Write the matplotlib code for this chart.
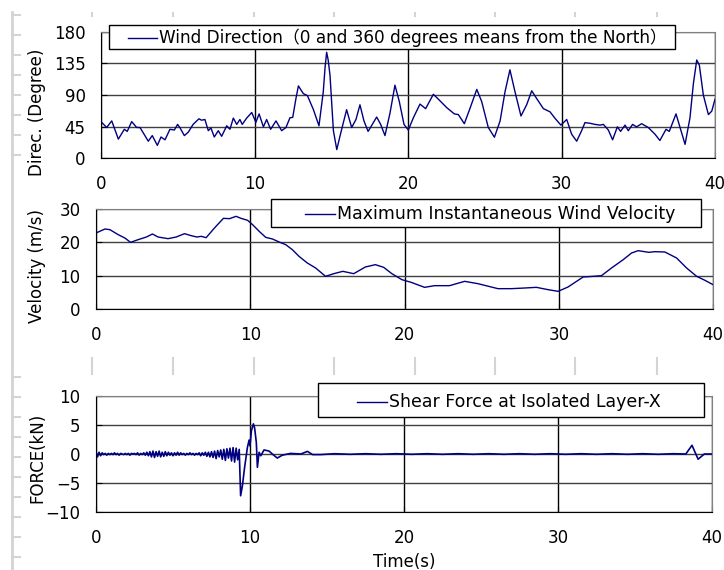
import numpy as np
import matplotlib.pyplot as plt
from matplotlib.lines import Line2D
from matplotlib.patches import Rectangle

plt.rcParams['font.family'] = ['DejaVu Sans', 'Noto Sans CJK JP']
plt.rcParams['font.size'] = 12

# wind direction (degree)
dir_t = [0.0, 0.04, 0.37, 0.70, 1.13, 1.52, 1.71, 2.0, 2.32, 2.54, 3.08, 3.34, 3.67, 3.91, 4.17,
         4.49, 4.78, 4.99, 5.15, 5.43, 5.69, 6.0, 6.38, 6.55, 6.77, 6.99, 7.16, 7.38, 7.64, 7.86,
         8.19, 8.40, 8.62, 8.84, 9.05, 9.2, 9.49, 9.82, 10.09, 10.3, 10.58, 10.79, 11.05, 11.4,
         11.77, 12.05, 12.31, 12.49, 12.7, 12.86, 13.18, 13.45, 13.84, 14.2, 14.48, 14.6, 14.7,
         14.8, 14.92, 15.14, 15.36, 15.6, 16.0, 16.33, 16.61, 16.87, 17.13, 17.4, 17.96, 18.22,
         18.5, 18.83, 19.15, 19.43, 19.74, 20.02, 20.35, 20.78, 21.15, 21.65, 21.98, 22.52, 23.02,
         23.28, 23.67, 24.04, 24.48, 24.8, 25.23, 25.63, 26.0, 26.32, 26.64, 26.97, 27.36, 27.73,
         28.06, 28.38, 28.82, 29.25, 29.58, 29.96, 30.34, 30.66, 30.99, 31.31, 31.53, 31.86, 32.18,
         32.51, 32.73, 33.05, 33.33, 33.64, 33.85, 34.14, 34.35, 34.63, 34.89, 35.22, 35.65, 36.09,
         36.41, 36.81, 37.02, 37.46, 37.72, 38.05, 38.37, 38.59, 38.81, 38.98, 39.24, 39.57, 39.79,
         40.0]
dir_v = [50, 51, 43.6, 53, 27, 41, 38, 52, 43.6, 43.6, 24, 32, 18, 30, 26,
         41, 40, 48, 43, 32, 37, 48, 56, 54, 55, 39, 43, 30, 39, 31,
         46, 41, 57, 48, 55, 48, 57, 65, 51, 63, 44.5, 55, 41, 53,
         39, 43.6, 57.5, 58, 85, 103, 92, 89, 69, 46, 94.6, 130, 151,
         140, 118, 39, 12, 34, 69, 43.6, 55, 76, 53, 38, 58.5, 48,
         32, 64.5, 104, 81, 48, 40, 57.5, 77, 70.5, 91, 84, 72, 63,
         62, 49, 71, 98, 80.7, 43.6, 29.7, 53, 94.6, 126, 94.6, 60, 76,
         96, 85, 70.5, 66, 56.6, 47, 55, 34, 24, 39, 50.6, 49.6, 48,
         47, 48, 40, 26, 44.5, 38, 47, 39, 48, 44.5, 49, 43.6, 34,
         25, 41, 38, 63, 43.6, 19.5, 57.5, 106, 140, 132.7, 90, 62, 67,
         84]

# maximum instantaneous wind velocity (m/s)
vel_t = [0, 0.58, 0.9, 1.44, 1.87, 2.24, 2.73, 3.27, 3.66, 4.02, 4.67, 5.2, 5.74, 6.17, 6.54,
         6.82, 7.14, 7.68, 8.26, 8.65, 9.08, 9.4, 9.83, 10.15, 10.58, 11.0, 11.44, 11.87, 12.3,
         12.73, 13.16, 13.7, 14.24, 14.88, 15.42, 16.0, 16.71, 17.46, 18.11, 18.65, 19.18, 19.83,
         20.43, 21.3, 21.95, 22.92, 23.9, 24.76, 26.06, 26.93, 27.8, 28.55, 29.31, 29.96, 30.6,
         31.58, 32.23, 32.77, 33.42, 34.18, 34.72, 35.15, 35.84, 36.23, 36.88, 37.64, 38.29,
         38.94, 39.48, 40]
vel_v = [22.8, 24, 23.8, 22.3, 21.3, 20, 20.8, 21.6, 22.5, 21.6, 21.1, 21.6, 22.6, 22, 21.6,
         21.8, 21.4, 24.3, 27.2, 27.1, 27.8, 27.2, 26.6, 25.3, 23.3, 21.5, 21, 20.1, 19.3,
         17.8, 15.8, 13.8, 12.3, 9.8, 10.6, 11.3, 10.6, 12.6, 13.3, 12.5, 10.6, 8.8,
         8, 6.5, 7, 7, 8.3, 7.6, 6.1, 6.1, 6.3, 6.5, 5.8, 5.3, 6.6,
         9.6, 9.8, 10, 12.3, 14.8, 16.8, 17.5, 17, 17.2, 17.1, 15.3, 12.3,
         9.8, 8.6, 7.3]

# shear force at isolated layer-X (kN), 0.1 s samples up to 9.3 s
force_early = [0.4, -0.5, 0.3, -0.3, 0.2, -0.1, 0.1, -0.2, 0.1, -0.1,
               0.1, -0.1, 0.2, -0.1, 0.1, -0.2, 0.1, 0.0, -0.1, 0.1,
               -0.1, 0.1, -0.2, 0.1, 0.0, 0.1, -0.1, 0.2, -0.2, 0.1,
               -0.1, 0.2, -0.2, 0.3, -0.3, 0.4, -0.5, 0.5, -0.6, 0.4,
               -0.4, 0.5, -0.5, 0.3, -0.4, 0.4, -0.3, 0.3, -0.2, 0.2,
               -0.3, 0.2, -0.2, 0.3, -0.2, 0.2, -0.1, 0.1, -0.2, 0.1,
               -0.1, 0.2, -0.1, 0.1, -0.2, 0.1, -0.1, 0.2, -0.3, 0.2,
               -0.2, 0.3, -0.4, 0.3, -0.5, 0.4, -0.6, 0.5, -0.8, 0.6,
               -0.5, 0.7, -0.9, 0.8, -1.1, 0.9, -0.7, 1.0, -1.2, 1.1,
               -1.4, 1.0, -1.0, 0.8]
force_t_late = [9.39, 9.5, 9.65, 9.83, 9.94, 10.0, 10.09, 10.22, 10.3, 10.41, 10.48, 10.59,
                10.7, 10.91, 11.24, 11.45, 11.77, 12.1, 12.64, 13.3, 13.73, 14.06, 14.6,
                15.5, 16.5, 17.5, 18.5, 19.5, 20.5, 21.5, 22.5, 23.5, 24.5, 25.5, 26.5,
                27.5, 28.5, 29.5, 30.5, 31.5, 32.5, 33.5, 34.5, 35.5, 36.5, 37.5, 38.3,
                38.7, 39.1, 39.5, 40.0]
force_late = [-7.2, -5.6, -2.3, 1.1, 2.4, 1.4, 4.0, 5.2, 4.5, 2.0, -2.3, 0.3,
              -0.3, 0.7, 0.5, 0.0, -0.7, -0.2, 0.1, 0.0, 0.45, -0.1, -0.1,
              0.05, -0.05, 0.05, -0.05, 0.05, -0.05, 0.05, -0.05, 0.05, -0.05, 0.05, -0.05,
              0.05, -0.05, 0.05, -0.05, 0.05, -0.05, 0.05, -0.05, 0.05, -0.05, 0.05, 0.0,
              1.5, -0.9, 0.0, 0.0]

force_t = list(np.round(np.arange(len(force_early)) * 0.1, 2)) + force_t_late
force_v = force_early + force_late

W, H = 724, 570
fig = plt.figure(figsize=(W / 100, H / 100), dpi=100)

def box(l, t, r, b):
    return [l / W, 1 - b / H, (r - l) / W, (b - t) / H]

def fx(x):
    return x / W

def fy(y):
    return 1 - y / H

navy = '#000080'

def style(ax, ylim, yticks, label, lab_xy):
    ax.set_xlim(0, 40)
    ax.set_ylim(*ylim)
    ax.set_xticks([0, 10, 20, 30, 40])
    ax.set_yticks(yticks)
    ax.grid(axis='y', color='#404040', lw=1)
    ax.grid(axis='x', color='black', lw=1)
    ax.set_axisbelow(True)
    for s in ['top', 'right']:
        ax.spines[s].set_color('#808080')
    for s in ['left', 'bottom']:
        ax.spines[s].set_color('black')
    ax.tick_params(direction='in', length=4, labelsize=12)
    ax.tick_params(axis='x', pad=12)
    ax.tick_params(axis='y', pad=11)
    ax.set_ylabel(label, fontsize=12)
    ax.yaxis.set_label_coords(*lab_xy)

# legend boxes drawn in page pixels: box, handle start/end, text start, centre line
def legend(ax, l, t, r, b, h0, h1, tx, yc, fs=12.5):
    line = ax.get_lines()[0]
    fig.add_artist(Rectangle((fx(l), fy(b)), fx(r - l), (b - t) / H, transform=fig.transFigure,
                             facecolor='white', edgecolor='black', lw=1, zorder=5))
    fig.add_artist(Line2D([fx(h0), fx(h1)], [fy(yc), fy(yc)], color=navy, lw=1, zorder=6))
    fig.text(fx(tx), fy(yc), line.get_label(), va='center', ha='left', fontsize=fs, zorder=6)

ax1 = fig.add_axes(box(101, 32, 715, 158))
ax1.plot(dir_t, dir_v, color=navy, lw=1, label='Wind Direction（0 and 360 degrees means from the North）')
style(ax1, (0, 180), [0, 45, 90, 135, 180], 'Direc. (Degree)', (-0.0896, 0.365))
legend(ax1, 109, 25, 675, 49, 128, 157, 159, 38, fs=12.2)

ax2 = fig.add_axes(box(96, 209, 713, 309))
ax2.plot(vel_t, vel_v, color=navy, lw=1, label='Maximum Instantaneous Wind Velocity')
style(ax2, (0, 30), [0, 10, 20, 30], 'Velocity (m/s)', (-0.081, 0.43))
legend(ax2, 271, 199, 701, 227, 305, 335, 337, 214)

ax3 = fig.add_axes(box(96, 396, 712, 512))
ax3.plot(force_t, force_v, color=navy, lw=1.2, label='Shear Force at Isolated Layer-X')
style(ax3, (-10, 10), [-10, -5, 0, 5, 10], 'FORCE(kN)', (-0.081, 0.466))
ax3.set_xlabel('Time(s)', fontsize=12)
ax3.xaxis.set_label_coords(0.5, -0.353)
legend(ax3, 318, 383, 704, 417, 357, 387, 389, 402)

# faint page-ruler marks left over in the original screenshot
grey = '#d4d4d4'
def pline(xs, ys, lw=1.5):
    fig.add_artist(Line2D([fx(x) for x in xs], [fy(y) for y in ys], color=grey, lw=lw))

pline([12, 12], [12, 570], lw=2)
for y in range(15, 170, 20):
    pline([12, 20], [y, y])
for y in range(377, 570, 20):
    pline([12, 20], [y, y])
for x in [92, 173, 254, 334, 415, 495, 575, 657]:
    pline([x, x], [13, 16])
    pline([x, x], [358, 374])

fig.savefig('out.png', dpi=100)
